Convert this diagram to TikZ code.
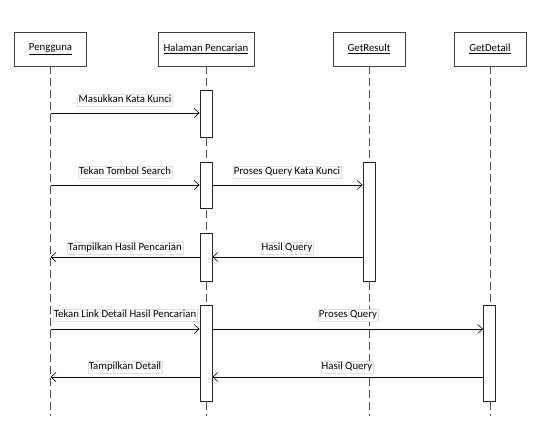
\documentclass[tikz,border=0pt]{standalone}
\usepackage{fontspec}
\setmainfont{Carlito}
\usetikzlibrary{arrows.meta}
\begin{document}
\begin{tikzpicture}[x=1pt,y=-1pt,
  font=\fontsize{10.8}{12}\selectfont,
  objbox/.style={draw=black!75,line width=0.8pt,fill=white,minimum width=72pt,minimum height=34pt,inner sep=0pt},
  life/.style={draw=black!70,line width=0.8pt,dash pattern=on 8pt off 4pt},
  act/.style={draw=black!85,line width=0.8pt,fill=white,minimum width=12pt,inner sep=0pt},
  msg/.style={draw=black,line width=0.7pt,-{Straight Barb[length=5pt,width=9pt,line width=0.6pt]}},
  lbl/.style={draw=black!12,fill=white,inner sep=1pt,text height=8pt,text depth=2.2pt}]
\useasboundingbox (0,0) rectangle (540,443);
% object boxes
\node[objbox] (pg) at (50.5,49) {\underline{Pengguna}};
\node[objbox,minimum width=96pt] (hp) at (206,49) {\underline{Halaman Pencarian}};
\node[objbox] (gr) at (369,49) {\underline{GetResult}};
\node[objbox] (gd) at (490,49) {\underline{GetDetail}};
% lifeline ends
\coordinate (pgE) at (50.5,416);
\coordinate (hpE) at (206,416);
\coordinate (grE) at (369,416);
\coordinate (gdE) at (490,416);
\draw[life] (pg.south) -- (pgE);
\draw[life] (hp.south) -- (hpE);
\draw[life] (gr.south) -- (grE);
\draw[life] (gd.south) -- (gdE);
% activations
\node[act,minimum height=47pt] (a1) at (206,113.5) {};
\node[act,minimum height=46pt] (a2) at (206,185) {};
\node[act,minimum height=48pt] (a3) at (206,257) {};
\node[act,minimum height=96pt] (a4) at (206,353) {};
\node[act,minimum height=119pt] (r1) at (369,221.5) {};
\node[act,minimum height=96pt] (d1) at (489.5,353) {};
% message anchor points on Pengguna lifeline
\coordinate (p1) at (50.5,113);
\coordinate (p2) at (50.5,185);
\coordinate (p3) at (50.5,257);
\coordinate (p4) at (50.5,329);
\coordinate (p5) at (50.5,377);
% messages
\draw[msg] (p1) -- (p1 -| a1.west);
\node[lbl] (m1) at (125,100) {Masukkan Kata Kunci};
\draw[msg] (p2) -- (p2 -| a2.west);
\node[lbl] (m2) at (125,172) {Tekan Tombol Search};
\draw[msg] (p2 -| a2.east) -- (p2 -| r1.west);
\node[lbl] (m3) at (287,172) {Proses Query Kata Kunci};
\draw[msg] (p3 -| r1.west) -- (p3 -| a3.east);
\node[lbl] (m4) at (287,248) {Hasil Query};
\draw[msg] (p3 -| a3.west) -- (p3);
\node[lbl] (m5) at (125,248) {Tampilkan Hasil Pencarian};
\draw[msg] (p4) -- (p4 -| a4.west);
\node[lbl] (m6) at (125,315) {Tekan Link Detail Hasil Pencarian};
\draw[msg] (p4 -| a4.east) -- (p4 -| d1.west);
\node[lbl] (m7) at (348,315) {Proses Query};
\draw[msg] (p5 -| d1.west) -- (p5 -| a4.east);
\node[lbl] (m8) at (347,367) {Hasil Query};
\draw[msg] (p5 -| a4.west) -- (p5);
\node[lbl] (m9) at (125,367) {Tampilkan Detail};
\end{tikzpicture}
\end{document}
